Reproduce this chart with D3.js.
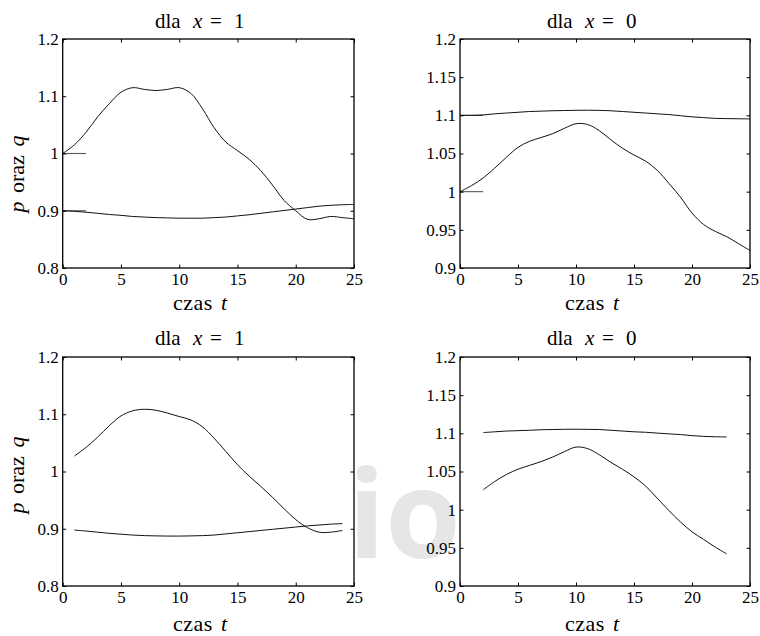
<!DOCTYPE html>
<html>
<head>
<meta charset="utf-8">
<script src="https://cdn.jsdelivr.net/npm/d3@7"></script>
<style>
  html, body { margin: 0; padding: 0; background: #fff; }
  svg { display: block; }
</style>
</head>
<body>
<svg id="chart" width="760" height="636"></svg>
<script>
// Time grid (czas t) for each panel
const tTopLeft = d3.range(0, 26);
const tTopRight = d3.range(0, 26);
const tBottomLeft = d3.range(1, 25);
const tBottomRight = d3.range(2, 24);

// Panel "dla x = 1", upper row: p (wave) and q (flat)
const pTopLeft = [1.000, 1.015, 1.037, 1.064, 1.087, 1.107, 1.115, 1.112, 1.110, 1.112, 1.115, 1.105, 1.078,
  1.045, 1.020, 1.005, 0.990, 0.970, 0.945, 0.918, 0.900, 0.885, 0.886, 0.890, 0.888, 0.886];
const qTopLeft = [0.900, 0.899, 0.8975, 0.8955, 0.8935, 0.892, 0.890, 0.889, 0.888, 0.8875, 0.887, 0.887, 0.887,
  0.888, 0.889, 0.891, 0.893, 0.8955, 0.898, 0.9005, 0.903, 0.9055, 0.908, 0.9095, 0.9105, 0.911];

// Panel "dla x = 0", upper row
const pTopRight = [1.000, 1.008, 1.018, 1.031, 1.045, 1.058, 1.066, 1.071, 1.076, 1.083, 1.089, 1.088, 1.080,
  1.068, 1.057, 1.048, 1.040, 1.028, 1.011, 0.993, 0.972, 0.957, 0.948, 0.941, 0.932, 0.923];
const qTopRight = [1.100, 1.100, 1.1005, 1.102, 1.103, 1.104, 1.105, 1.1055, 1.106, 1.1063, 1.1066, 1.1067, 1.1065,
  1.106, 1.105, 1.104, 1.103, 1.102, 1.101, 1.0995, 1.098, 1.097, 1.096, 1.0957, 1.0955, 1.0953];

// Panel "dla x = 1", lower row
const pBottomLeft = [1.027, 1.042, 1.060, 1.080, 1.097, 1.106, 1.1087, 1.107, 1.102, 1.096, 1.090, 1.078,
  1.058, 1.035, 1.012, 0.992, 0.974, 0.955, 0.935, 0.916, 0.902, 0.894, 0.894, 0.897];
const qBottomLeft = [0.8977, 0.896, 0.894, 0.892, 0.8905, 0.889, 0.888, 0.8875, 0.8872, 0.8872, 0.8875, 0.888,
  0.889, 0.891, 0.893, 0.895, 0.897, 0.899, 0.901, 0.903, 0.905, 0.9065, 0.908, 0.909];

// Panel "dla x = 0", lower row
const pBottomRight = [1.026, 1.037, 1.046, 1.053, 1.058, 1.063, 1.069, 1.076, 1.082, 1.080, 1.072, 1.062,
  1.053, 1.043, 1.031, 1.015, 0.999, 0.984, 0.971, 0.961, 0.951, 0.942];
const qBottomRight = [1.101, 1.102, 1.103, 1.1035, 1.104, 1.1047, 1.105, 1.1053, 1.1054, 1.1052, 1.105, 1.104,
  1.103, 1.102, 1.1014, 1.1003, 1.0993, 1.0984, 1.097, 1.096, 1.0955, 1.0953];

// Initial history (t in [0, 2]) shown in the upper row
const histT = [0, 2];
const histTopLeftP = [1.0, 1.0];
const histTopLeftQ = [0.9, 0.9];
const histTopRightP = [1.0, 1.0];
const histTopRightQ = [1.1, 1.1];

// Axis ticks
const xTicks = [0, 5, 10, 15, 20, 25];
const yTicksX1 = [0.8, 0.9, 1.0, 1.1, 1.2];
const yTicksX0 = [0.9, 0.95, 1.0, 1.05, 1.1, 1.15, 1.2];

const titleValues = ["1", "0", "1", "0"];
const xLabelWord = "czas";
const yLabelWord = "oraz";

const SERIF = "Liberation Serif";
const svg = d3.select("#chart");

// apply the serif face to a text selection
const serif = (sel, size) => sel
  .attr("font-family", SERIF)
  .style("font-family", `'${SERIF}'`)
  .style("font-size", size + "px")
  .style("fill", "#000");

// faint logo mark between the lower panels
svg.append("text")
  .attr("x", 348).attr("y", 558)
  .attr("font-family", "Open Sans")
  .style("font-family", "'Open Sans'")
  .style("font-weight", "bold")
  .style("font-size", "122px")
  .style("fill", "#e6e6e6")
  .text("io");

const panels = [
  { left: 62.7, top: 39, width: 291.3, height: 229, yDomain: [0.8, 1.2], yTicks: yTicksX1,
    title: titleValues[0], titleX: 155, titleY: 28, xLabX: 173, xLabY: 310, yLabMid: 174,
    series: [[tTopLeft, pTopLeft], [tTopLeft, qTopLeft]],
    hist: [[histT, histTopLeftP], [histT, histTopLeftQ]] },
  { left: 460, top: 39, width: 290, height: 229, yDomain: [0.9, 1.2], yTicks: yTicksX0,
    title: titleValues[1], titleX: 547, titleY: 28, xLabX: 565, xLabY: 310,
    series: [[tTopRight, pTopRight], [tTopRight, qTopRight]],
    hist: [[histT, histTopRightP], [histT, histTopRightQ]] },
  { left: 62.7, top: 357, width: 291.3, height: 229, yDomain: [0.8, 1.2], yTicks: yTicksX1,
    title: titleValues[2], titleX: 155, titleY: 345, xLabX: 173, xLabY: 631, yLabMid: 475,
    series: [[tBottomLeft, pBottomLeft], [tBottomLeft, qBottomLeft]], hist: [] },
  { left: 460, top: 357, width: 290, height: 229, yDomain: [0.9, 1.2], yTicks: yTicksX0,
    title: titleValues[3], titleX: 547, titleY: 345, xLabX: 565, xLabY: 631,
    series: [[tBottomRight, pBottomRight], [tBottomRight, qBottomRight]], hist: [] }
];

const tickFmt = d => String(+d.toFixed(2));

panels.forEach(p => {
  const x = d3.scaleLinear().domain([0, 25]).range([0, p.width]);
  const y = d3.scaleLinear().domain(p.yDomain).range([p.height, 0]);
  const g = svg.append("g").attr("transform", `translate(${p.left},${p.top})`);

  const line = d3.line()
    .x(d => x(d[0])).y(d => y(d[1]))
    .curve(d3.curveCatmullRom.alpha(0.5));

  p.hist.forEach(([ts, vs]) => {
    g.append("path")
      .datum(ts.map((t, i) => [t, vs[i]]))
      .attr("d", d3.line().x(d => x(d[0])).y(d => y(d[1])))
      .attr("fill", "none").attr("stroke", "#555").attr("stroke-width", 1.1);
  });

  p.series.forEach(([ts, vs]) => {
    g.append("path")
      .datum(ts.map((t, i) => [t, vs[i]]))
      .attr("d", line)
      .attr("fill", "none").attr("stroke", "#111").attr("stroke-width", 1);
  });

  // ticks pointing inward on all four sides
  const tl = 3.5;
  const axStyle = a => {
    a.attr("font-family", SERIF);
    a.select(".domain").remove();
    a.selectAll(".tick line").attr("stroke", "#000").attr("stroke-width", 1);
    a.selectAll(".tick text").call(serif, 17);
  };
  g.append("g").attr("transform", `translate(0,${p.height})`)
    .call(d3.axisBottom(x).tickValues(xTicks).tickSizeInner(-tl).tickSizeOuter(0).tickPadding(0).tickFormat(tickFmt))
    .call(axStyle)
    .call(a => a.selectAll(".tick text").attr("y", 17).attr("dy", null));
  g.append("g")
    .call(d3.axisTop(x).tickValues(xTicks).tickSizeInner(-tl).tickSizeOuter(0).tickFormat(""))
    .call(axStyle);
  g.append("g")
    .call(d3.axisLeft(y).tickValues(p.yTicks).tickSizeInner(-tl).tickSizeOuter(0).tickPadding(4).tickFormat(tickFmt))
    .call(axStyle);
  g.append("g").attr("transform", `translate(${p.width},0)`)
    .call(d3.axisRight(y).tickValues(p.yTicks).tickSizeInner(-tl).tickSizeOuter(0).tickFormat(""))
    .call(axStyle);

  g.append("rect")
    .attr("width", p.width).attr("height", p.height)
    .attr("fill", "none").attr("stroke", "#000").attr("stroke-width", 1.3);

  // title: dla x = value
  const tt = svg.append("text").attr("y", p.titleY).call(serif, 21);
  tt.append("tspan").attr("x", p.titleX).text("dla");
  tt.append("tspan").attr("x", p.titleX + 38).style("font-style", "italic").text("x");
  tt.append("tspan").attr("x", p.titleX + 55).text("=");
  tt.append("tspan").attr("x", p.titleX + 79).text(p.title);

  // x label: czas t
  const xl = svg.append("text").attr("y", p.xLabY).call(serif, 22);
  xl.append("tspan").attr("x", p.xLabX).style("letter-spacing", "0.5px").text(xLabelWord);
  xl.append("tspan").attr("x", p.xLabX + 48).style("font-style", "italic").text("t");

  // y label: p oraz q
  if (p.yLabMid !== undefined) {
    const yl = svg.append("text")
      .attr("transform", `translate(24,${p.yLabMid + 38.5}) rotate(-90)`)
      .call(serif, 22);
    yl.append("tspan").attr("x", 0).style("font-style", "italic").text("p");
    yl.append("tspan").attr("x", 19.5).text(yLabelWord);
    yl.append("tspan").attr("x", 66).style("font-style", "italic").text("q");
  }
});
</script>
</body>
</html>
